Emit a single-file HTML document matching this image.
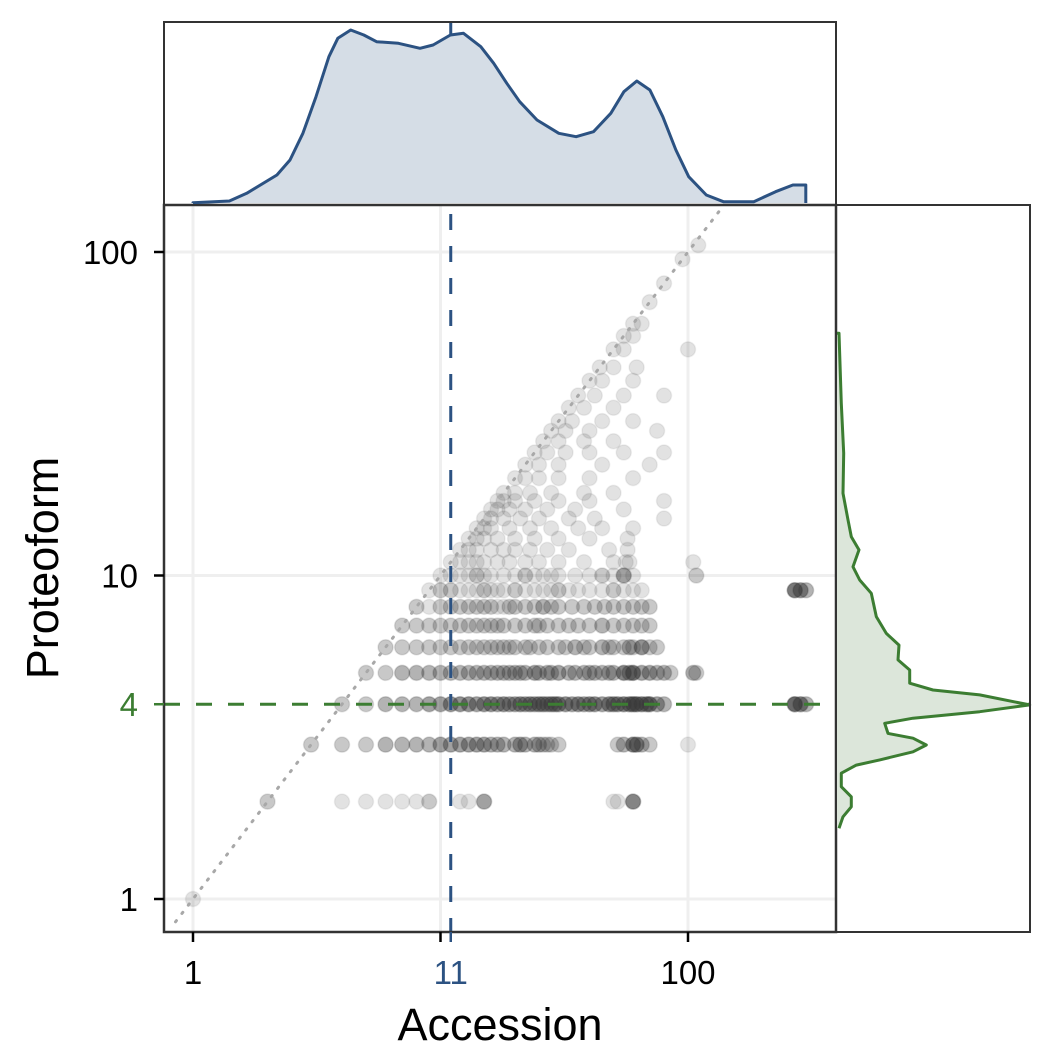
<!DOCTYPE html>
<html><head><meta charset="utf-8">
<style>
html,body{margin:0;padding:0;background:#fff;}
svg{display:block;font-family:"Liberation Sans",Arial,sans-serif;}
</style></head>
<body>
<svg id="chart" width="1062" height="1062" viewBox="0 0 1062 1062">
  <defs><clipPath id="mainclip"><rect x="164" y="205" width="672" height="727"/></clipPath></defs>
  <rect x="0" y="0" width="1062" height="1062" fill="#fff"/>
  <g id="grid"></g>
  <g id="pts" clip-path="url(#mainclip)"></g>
  <g id="refs"></g>
  <g id="axes"></g>
  <g id="topg"></g>
  <g id="rightg"></g>
</svg>
<script>
// ---- data ----
const xTicks = [1, 10, 11, 100];
const xTickLabels = ["1", "", "11", "100"];
const yTicks = [1, 4, 10, 100];
const yTickLabels = ["1", "4", "10", "100"];
const medianX = 11;
const medianY = 4;
const rowY = [1, 2, 3, 4, 5, 6, 7, 8, 9, 10];
const rowX = [
  [1],
  [2,4,5,6,7,8,9,12,13,15,50,52,60],
  [3,4,5,6,7,8,9,10,11,12,13,14,15,16,17,18,20,21,22,24,25,26,27,28,30,52,55,60,62,65,70,100],
  [4,5,6,7,8,9,10,11,12,13,14,15,16,17,18,19,20,21,22,23,24,25,26,27,28,29,30,32,34,36,38,40,42,45,48,50,52,55,58,60,62,65,68,70,75,80,270,285,300],
  [5,6,7,8,9,10,11,12,13,14,15,16,17,18,19,20,21,22,24,25,27,28,30,33,35,38,40,42,45,48,50,55,58,60,65,70,75,80,85,105,108],
  [6,7,8,9,10,11,12,13,14,15,16,17,18,19,20,22,23,25,27,30,32,35,38,40,45,48,50,55,58,60,65,70,75],
  [7,8,9,10,11,12,13,14,15,16,17,18,20,22,24,25,27,30,33,36,40,45,50,55,60,65,70],
  [8,9,10,11,12,13,14,15,16,17,18,19,20,22,24,26,28,30,34,38,42,46,50,55,60,65,70],
  [9,10,11,12,13,14,15,16,17,18,20,22,24,26,28,30,33,36,40,45,50,55,60,65,270,285,300],
  [10,11,12,13,14,15,16,18,20,22,24,26,28,30,35,40,45,50,55,60,108]
];
const rowN = [
  [1],
  [2,1,1,1,1,1,2,1,1,4,1,1,6],
  [2,2,2,3,3,3,3,4,4,4,4,4,4,3,3,3,3,4,3,3,3,2,2,2,2,2,3,6,5,3,2,1],
  [2,2,3,3,3,4,4,5,5,5,4,5,5,4,5,4,4,5,4,5,4,5,5,4,5,5,5,5,4,5,4,5,5,4,5,5,5,6,6,7,7,6,5,7,4,3,9,6,3],
  [2,2,3,3,3,3,3,3,3,3,3,3,3,3,3,3,3,3,4,3,3,3,4,3,3,3,3,3,3,3,3,6,4,7,4,4,3,3,2,3,2],
  [2,2,2,2,2,2,2,2,2,2,2,2,2,2,2,2,2,2,2,2,2,3,2,2,3,2,2,2,3,2,5,2,2],
  [2,2,2,2,2,2,2,2,2,2,2,2,2,2,2,2,2,2,2,2,2,3,2,2,2,2,2],
  [2,1,2,2,2,2,2,2,2,1,1,2,2,2,2,3,2,2,2,2,2,2,2,2,2,2,2],
  [1,2,2,1,1,1,2,1,1,1,2,1,1,1,1,2,1,1,1,1,2,1,1,1,7,5,3],
  [1,1,1,1,2,1,1,1,1,2,1,1,1,1,1,1,2,1,4,1,2]
];
const hiX = [11,12,13,14,15,17,19,22,25,30,38,50,56,58,105, 12,13,14,16,18,20,23,27,33,48,57, 13,14,15,17,20,24,30,40,57, 14,15,16,19,23,28,36,45,60, 15,16,18,21,25,33,42,80, 16,17,19,22,27,35,55, 17,18,20,24,30,40,80, 18,20,23,28,38,50, 20,22,25,30,40,60, 22,25,30,45,70, 24,27,32,40,55,80, 26,30,38,50, 28,32,40,75, 30,34,45,60, 33,38,50, 36,42,55,80, 40,45,60, 44,50,62, 50,55,100, 55,60, 60,65, 70, 80, 95, 110];
const hiY = [11,11,11,11,11,11,11,11,11,11,11,11,11,11,11, 12,12,12,12,12,12,12,12,12,12,12, 13,13,13,13,13,13,13,13,13, 14,14,14,14,14,14,14,14,14, 15,15,15,15,15,15,15,15, 16,16,16,16,16,16,16, 17,17,17,17,17,17,17, 18,18,18,18,18,18, 20,20,20,20,20,20, 22,22,22,22,22, 24,24,24,24,24,24, 26,26,26,26, 28,28,28,28, 30,30,30,30, 33,33,33, 36,36,36,36, 40,40,40, 44,44,44, 50,50,50, 55,55, 60,60, 70, 80, 95, 105];
const topLogX = [0,0.147,0.217,0.339,0.392,0.444,0.497,0.549,0.585,0.637,0.690,0.742,0.830,0.917,0.97,1.040,1.093,1.163,1.215,1.268,1.320,1.390,1.478,1.548,1.618,1.688,1.741,1.793,1.846,1.898,1.951,2.003,2.074,2.143,2.266,2.354,2.424,2.476];
const topDens = [0.3,2,9.7,28,43,69.7,106.3,146.3,164.7,173,168,161.3,159.7,154.7,158,168,169.7,156.3,139.7,119.7,101.3,83,69.7,66.3,71.3,89.7,111.3,122,113,86.3,53,26.3,8,1.3,1.3,11.3,18,18];
const rightLogY = [1.749,1.532,1.378,1.254,1.172,1.120,1.079,1.027,0.986,0.945,0.873,0.821,0.785,0.739,0.708,0.667,0.646,0.631,0.600,0.579,0.559,0.543,0.512,0.497,0.476,0.455,0.430,0.414,0.389,0.347,0.316,0.285,0.254,0.219];
const rightDens = [2,4.3,6.7,6,11,14.3,22,16,22.7,34.3,39.3,49.3,62,61,72.7,72.7,96,142.7,192.7,142.7,76,47.7,51,76,89.3,76,42.7,19.3,4.3,4.3,14.3,14.3,6,2];

// ---- scales ----
const P = {l:164, r:836, t:205, b:932};
const xS = v => 193 + 247.5*Math.log10(v);
const yS = v => 899 - 323.5*Math.log10(v);
const xL = l => 193 + 247.5*l;
const yL = l => 899 - 323.5*l;
const NS = "http://www.w3.org/2000/svg";
function mk(tag, attrs, parent){ const e=document.createElementNS(NS,tag); for(const k in attrs) e.setAttribute(k,attrs[k]); parent.appendChild(e); return e; }
const BLUE="#2c5282", GREEN="#3c7d32";

const gridG=document.getElementById('grid');
[1,10,100].forEach(v=>{
  const g1=mk('line',{x1:xS(v),x2:xS(v),y1:P.t,y2:P.b,stroke:'#efefef','stroke-width':3},gridG);
  
  
  const g2=mk('line',{x1:P.l,x2:P.r,y1:yS(v),y2:yS(v),stroke:'#efefef','stroke-width':3},gridG);
  
  
});

const ptsG=document.getElementById('pts');
function dot(x,y,n){
  const a = 1-Math.pow(1-0.15,n);
  const c=mk('circle',{cx:xS(x),cy:yS(y),r:7.5,fill:'#3a3a3a','fill-opacity':a.toFixed(3),stroke:'#3a3a3a','stroke-opacity':(a*0.5).toFixed(3),'stroke-width':1.5},ptsG);
  
  
}
rowY.forEach((y,i)=>rowX[i].forEach((x,j)=>dot(x,y,rowN[i][j])));
hiX.forEach((x,i)=>dot(x,hiY[i],1));

const refsG=document.getElementById('refs');
const diag=mk('line',{x1:xS(0.85),y1:yS(0.85),x2:xS(140),y2:yS(140),stroke:'#a8a8a8','stroke-width':3,'stroke-dasharray':'1.5 9','stroke-linecap':'round','clip-path':'url(#mainclip)'},refsG);


const mx=mk('line',{x1:xS(medianX),x2:xS(medianX),y1:22,y2:P.b,stroke:BLUE,'stroke-width':3,'stroke-dasharray':'16 16'},refsG);


const my=mk('line',{x1:P.l,x2:1030,y1:yS(medianY),y2:yS(medianY),stroke:GREEN,'stroke-width':3,'stroke-dasharray':'16 16'},refsG);



const topG=document.getElementById('topg');
const topH=v=>203-v;
let d='M'+xL(topLogX[0])+','+topH(0);
topLogX.forEach((l,i)=>{ d+=' L'+xL(l).toFixed(1)+','+topH(topDens[i]).toFixed(1); });
d+=' L'+xL(topLogX[topLogX.length-1]).toFixed(1)+','+topH(0);
const tf=mk('path',{d:d+' Z',fill:'#d5dde6',stroke:'none'},topG);


const tl=mk('path',{d:d,fill:'none',stroke:BLUE,'stroke-width':3,'stroke-linejoin':'round'},topG);


const tb=mk('rect',{x:P.l,y:22,width:P.r-P.l,height:P.t-22,fill:'none',stroke:'#333','stroke-width':2},topG);



const rightG=document.getElementById('rightg');
const rW=v=>837+v;
let d2='M'+rW(0)+','+yL(rightLogY[0]).toFixed(1);
rightLogY.forEach((l,i)=>{ d2+=' L'+rW(rightDens[i]).toFixed(1)+','+yL(l).toFixed(1); });
const rf=mk('path',{d:d2+' L'+rW(0)+','+yL(rightLogY[rightLogY.length-1]).toFixed(1)+' Z',fill:'#dce6da',stroke:'none'},rightG);


const rl=mk('path',{d:d2,fill:'none',stroke:GREEN,'stroke-width':3,'stroke-linejoin':'round'},rightG);


const rb=mk('rect',{x:P.r,y:P.t,width:1030-P.r,height:P.b-P.t,fill:'none',stroke:'#333','stroke-width':2},rightG);



const axesG=document.getElementById('axes');
const mb=mk('rect',{x:P.l,y:P.t,width:P.r-P.l,height:P.b-P.t,fill:'none',stroke:'#333','stroke-width':2.5},axesG);


xTicks.forEach((v,i)=>{
  const col = v===medianX?BLUE:'#000';
  const t=mk('line',{x1:xS(v),x2:xS(v),y1:P.b,y2:P.b+10,stroke:col,'stroke-width':2.5},axesG);
  
  
  if(xTickLabels[i]){
    const tx=mk('text',{x:xS(v),y:P.b+52,'text-anchor':'middle','font-size':33,fill:col},axesG);
    tx.textContent=xTickLabels[i];
    
    
  }
});
yTicks.forEach((v,i)=>{
  const col = v===medianY?GREEN:'#000';
  const t=mk('line',{x1:P.l-10,x2:P.l,y1:yS(v),y2:yS(v),stroke:col,'stroke-width':2.5},axesG);
  
  
  const tx=mk('text',{x:P.l-26,y:yS(v)+12,'text-anchor':'end','font-size':33,fill:col},axesG);
  tx.textContent=yTickLabels[i];
  
  
});
const xt=mk('text',{x:500,y:1040,'text-anchor':'middle','font-size':45,fill:'#000'},axesG);
xt.textContent='Accession';


const yt=mk('text',{x:0,y:0,'text-anchor':'middle','font-size':45,fill:'#000',transform:'translate(58,568) rotate(-90)'},axesG);
yt.textContent='Proteoform';


</script>
</body></html>
